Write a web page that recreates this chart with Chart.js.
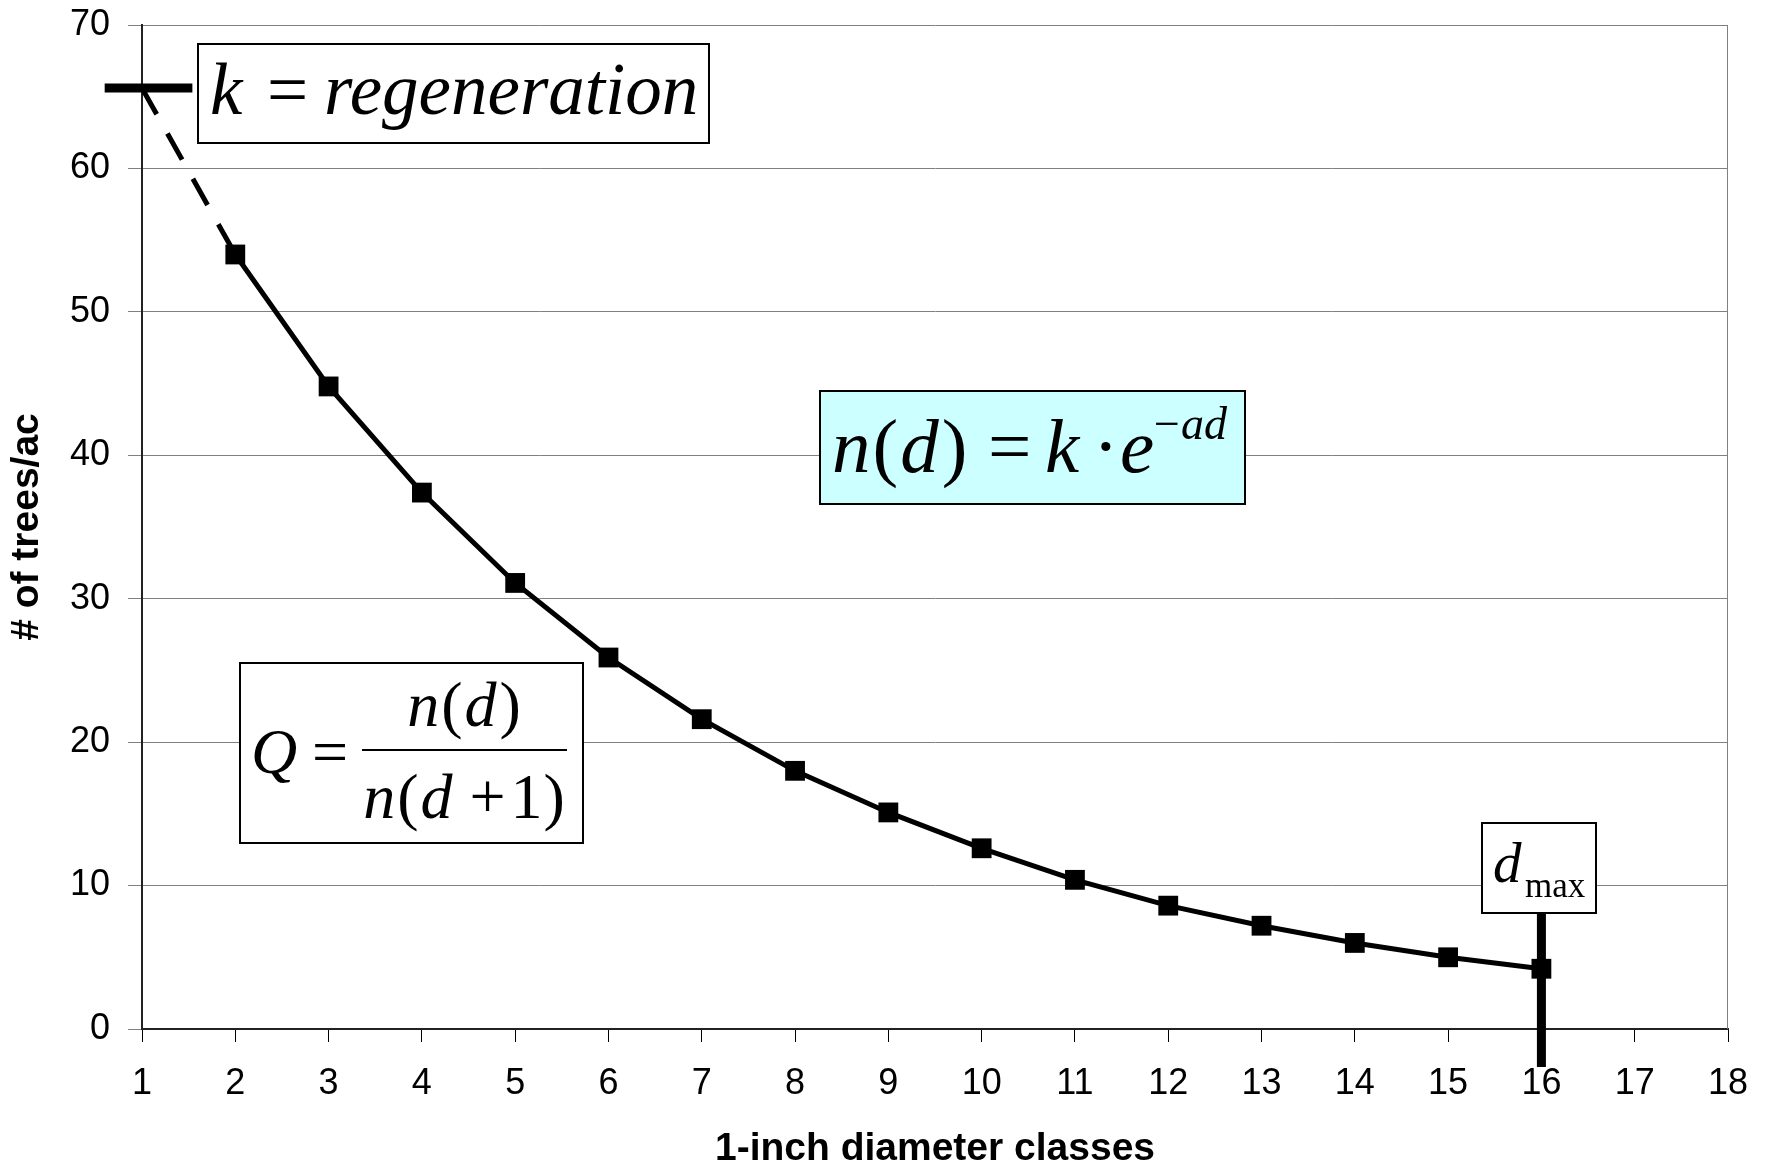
<!DOCTYPE html>
<html><head><meta charset="utf-8">
<script src="https://cdn.jsdelivr.net/npm/chart.js@4.4.1/dist/chart.umd.min.js"></script>
<style>html,body{margin:0;padding:0;background:#fff;overflow:hidden}#wrap{width:1767px;height:1167px}</style>
</head><body><div id="wrap"><canvas id="c" width="1767" height="1167"></canvas></div>
<script>
// ---- data ----
const diameterClasses = [1,2,3,4,5,6,7,8,9,10,11,12,13,14,15,16];
const treesPerAcre   = [65.6,54.0,44.8,37.4,31.1,25.9,21.6,18.0,15.1,12.6,10.4,8.6,7.2,6.0,5.0,4.2];
const xTickValues = [1,2,3,4,5,6,7,8,9,10,11,12,13,14,15,16,17,18];
const yTickValues = [0,10,20,30,40,50,60,70];
const xAxisTitle = '1-inch diameter classes';
const yAxisTitle = '# of trees/ac';
const regenerationX = 1;      // k marker at first class
const dmaxX = 16;             // d_max class

// ---- annotation layout (data coordinates for boxes) ----
const SERIF = '"Liberation Serif", "Times New Roman", serif';
const annotations = {
  kBar:  {x0: 0.6, x1: 1.54},
  dBar:  {y0: 8.08, y1: -2.65},
  kBox:  {x0: 1.60, x1: 7.08, y0: 68.7, y1: 61.8, fill: '#ffffff'},
  nBox:  {x0: 8.27, x1: 12.82, y0: 44.5, y1: 36.6, fill: '#ccffff'},
  qBox:  {x0: 2.05, x1: 5.73, y0: 25.5, y1: 13.0, fill: '#ffffff'},
  dBox:  {x0: 15.36, x1: 16.59, y0: 14.35, y1: 8.08, fill: '#ffffff'}
};

function fnt(style, size) {
  return (style === 'i' ? 'italic ' : '') + size + 'px ' + SERIF;
}
function flow(ctx, pieces, x, y) {
  let cx = x;
  for (const p of pieces) {
    const [t, st, sz, gap, dy] = p;
    cx += gap || 0;
    ctx.font = fnt(st, sz);
    ctx.fillText(t, cx, y + (dy || 0));
    cx += ctx.measureText(t).width;
  }
  return cx - x;
}
function flowWidth(ctx, pieces) {
  let w = 0;
  for (const p of pieces) { ctx.font = fnt(p[1], p[2]); w += (p[3] || 0) + ctx.measureText(p[0]).width; }
  return w;
}

const annotationPlugin = {
  id: 'formulaAnnotations',
  afterDraw(chart) {
    const {ctx, scales: {x, y}} = chart;
    const kY = treesPerAcre[diameterClasses.indexOf(regenerationX)];
    ctx.save();
    // plot right border
    ctx.strokeStyle = '#808080'; ctx.lineWidth = 1;
    const rx = Math.round(x.getPixelForValue(18)) - 0.5;
    ctx.beginPath();
    ctx.moveTo(rx, y.getPixelForValue(70));
    ctx.lineTo(rx, y.getPixelForValue(0));
    ctx.stroke();

    // thick k bar
    ctx.strokeStyle = '#000'; ctx.lineWidth = 9; ctx.lineCap = 'butt';
    ctx.beginPath();
    ctx.moveTo(x.getPixelForValue(annotations.kBar.x0), y.getPixelForValue(kY));
    ctx.lineTo(x.getPixelForValue(annotations.kBar.x1), y.getPixelForValue(kY));
    ctx.stroke();
    // thick d_max bar
    ctx.beginPath();
    ctx.moveTo(x.getPixelForValue(dmaxX), y.getPixelForValue(annotations.dBar.y0));
    ctx.lineTo(x.getPixelForValue(dmaxX), y.getPixelForValue(annotations.dBar.y1));
    ctx.stroke();

    function box(b) {
      const l = Math.round(x.getPixelForValue(b.x0)), r = Math.round(x.getPixelForValue(b.x1));
      const t = Math.round(y.getPixelForValue(b.y0)), bt = Math.round(y.getPixelForValue(b.y1));
      ctx.fillStyle = b.fill; ctx.fillRect(l, t, r - l, bt - t);
      ctx.strokeStyle = '#000'; ctx.lineWidth = 2;
      ctx.strokeRect(l, t, r - l, bt - t);
      return {l, t, r, b: bt};
    }
    ctx.fillStyle = '#000'; ctx.textBaseline = 'alphabetic'; ctx.textAlign = 'left';

    // k = regeneration
    let B = box(annotations.kBox);
    ctx.fillStyle = '#000';
    ctx.font = fnt('i', 73); ctx.fillText('k', B.l + 12, B.t + 70);
    ctx.font = fnt('n', 73); ctx.fillText('=', B.l + 69, B.t + 70);
    ctx.font = fnt('i', 73); ctx.fillText('regeneration', B.l + 126, B.t + 70);

    // n(d) = k · e^{-ad}
    B = box(annotations.nBox);
    ctx.fillStyle = '#000';
    const nb = B.t + 81;
    flow(ctx, [['n','i',77],['(','n',77,2],['d','i',77,2],[')','n',77,3]], B.l + 12, nb);
    ctx.font = fnt('n', 77); ctx.fillText('=', B.l + 168, nb);
    ctx.font = fnt('i', 77); ctx.fillText('k', B.l + 225, nb);
    ctx.font = fnt('n', 77); ctx.fillText('\u00B7', B.l + 273, nb);
    ctx.font = fnt('i', 77); ctx.fillText('e', B.l + 300, nb);
    flow(ctx, [['\u2212','n',46],['ad','i',46,1]], B.l + 334, nb - 33);

    // Q = n(d) / n(d+1)
    B = box(annotations.qBox);
    ctx.fillStyle = '#000';
    ctx.font = fnt('i', 64); ctx.fillText('Q', B.l + 11, B.t + 110);
    ctx.font = fnt('n', 64); ctx.fillText('=', B.l + 72, B.t + 110);
    ctx.strokeStyle = '#000'; ctx.lineWidth = 2;
    ctx.beginPath(); ctx.moveTo(B.l + 122, B.t + 87); ctx.lineTo(B.l + 327, B.t + 87); ctx.stroke();
    const num = [['n','i',64],['(','n',64,2],['d','i',64,2],[')','n',64,3]];
    const den = [['n','i',64],['(','n',64,2],['d','i',64,2],['+','n',64,17],['1','n',64,5],[')','n',64,1]];
    flow(ctx, num, B.l + 224 - flowWidth(ctx, num) / 2, B.t + 63);
    flow(ctx, den, B.l + 224 - flowWidth(ctx, den) / 2, B.t + 155);

    // d_max
    B = box(annotations.dBox);
    ctx.fillStyle = '#000';
    ctx.font = fnt('i', 57); ctx.fillText('d', B.l + 11, B.t + 59);
    ctx.font = fnt('n', 35); ctx.fillText('max', B.l + 43, B.t + 74);
    ctx.restore();
  }
};

const SANS = '"Liberation Sans", Arial, sans-serif';
const chart = new Chart(document.getElementById('c'), {
  type: 'line',
  data: {
    datasets: [{
      data: diameterClasses.map((d, i) => ({x: d, y: treesPerAcre[i]})),
      borderColor: '#000',
      backgroundColor: '#000',
      borderWidth: 5,
      pointStyle: 'rect',
      pointRadius: c => (c.dataIndex === 0 ? 0 : 14),
      pointBorderWidth: 0,
      pointBackgroundColor: '#000',
      tension: 0,
      segment: { borderDash: c => (c.p0DataIndex === 0 ? [30, 22] : undefined) }
    }]
  },
  options: {
    responsive: false,
    animation: false,
    devicePixelRatio: 1,
    layout: { padding: {left: 0, right: 39, top: 25, bottom: 0} },
    plugins: { legend: {display: false}, tooltip: {enabled: false} },
    scales: {
      x: {
        type: 'linear', min: 1, max: 18,
        afterBuildTicks: s => { s.ticks = xTickValues.map(v => ({value: v})); },
        afterFit: s => { s.height = 138; s.paddingLeft = 0; s.paddingRight = 0; },
        grid: { drawOnChartArea: false, drawTicks: true, tickLength: 13, tickColor: '#000', tickWidth: 1, color: '#000' },
        border: { display: true, color: '#222', width: 2 },
        ticks: { font: {family: SANS, size: 36}, color: '#000', padding: 20, maxRotation: 0, autoSkip: false },
        title: { display: true, text: xAxisTitle, color: '#000', padding: 0,
                 font: {family: SANS, size: 39, weight: 'bold', lineHeight: 0.9} }
      },
      y: {
        type: 'linear', min: 0, max: 70,
        afterBuildTicks: s => { s.ticks = yTickValues.map(v => ({value: v})); },
        afterFit: s => { s.width = 142; s.paddingTop = 0; s.paddingBottom = 0; },
        grid: { color: '#808080', lineWidth: 1, drawTicks: true, tickLength: 14, tickColor: '#808080' },
        border: { display: true, color: '#222', width: 2 },
        ticks: { font: {family: SANS, size: 36}, color: '#000', padding: 18 },
        title: { display: true, text: yAxisTitle, color: '#000', padding: {top: 4, bottom: 0},
                 font: {family: SANS, size: 39, weight: 'bold', lineHeight: 1.2} }
      }
    }
  },
  plugins: [annotationPlugin]
});
</script>
</body></html>
